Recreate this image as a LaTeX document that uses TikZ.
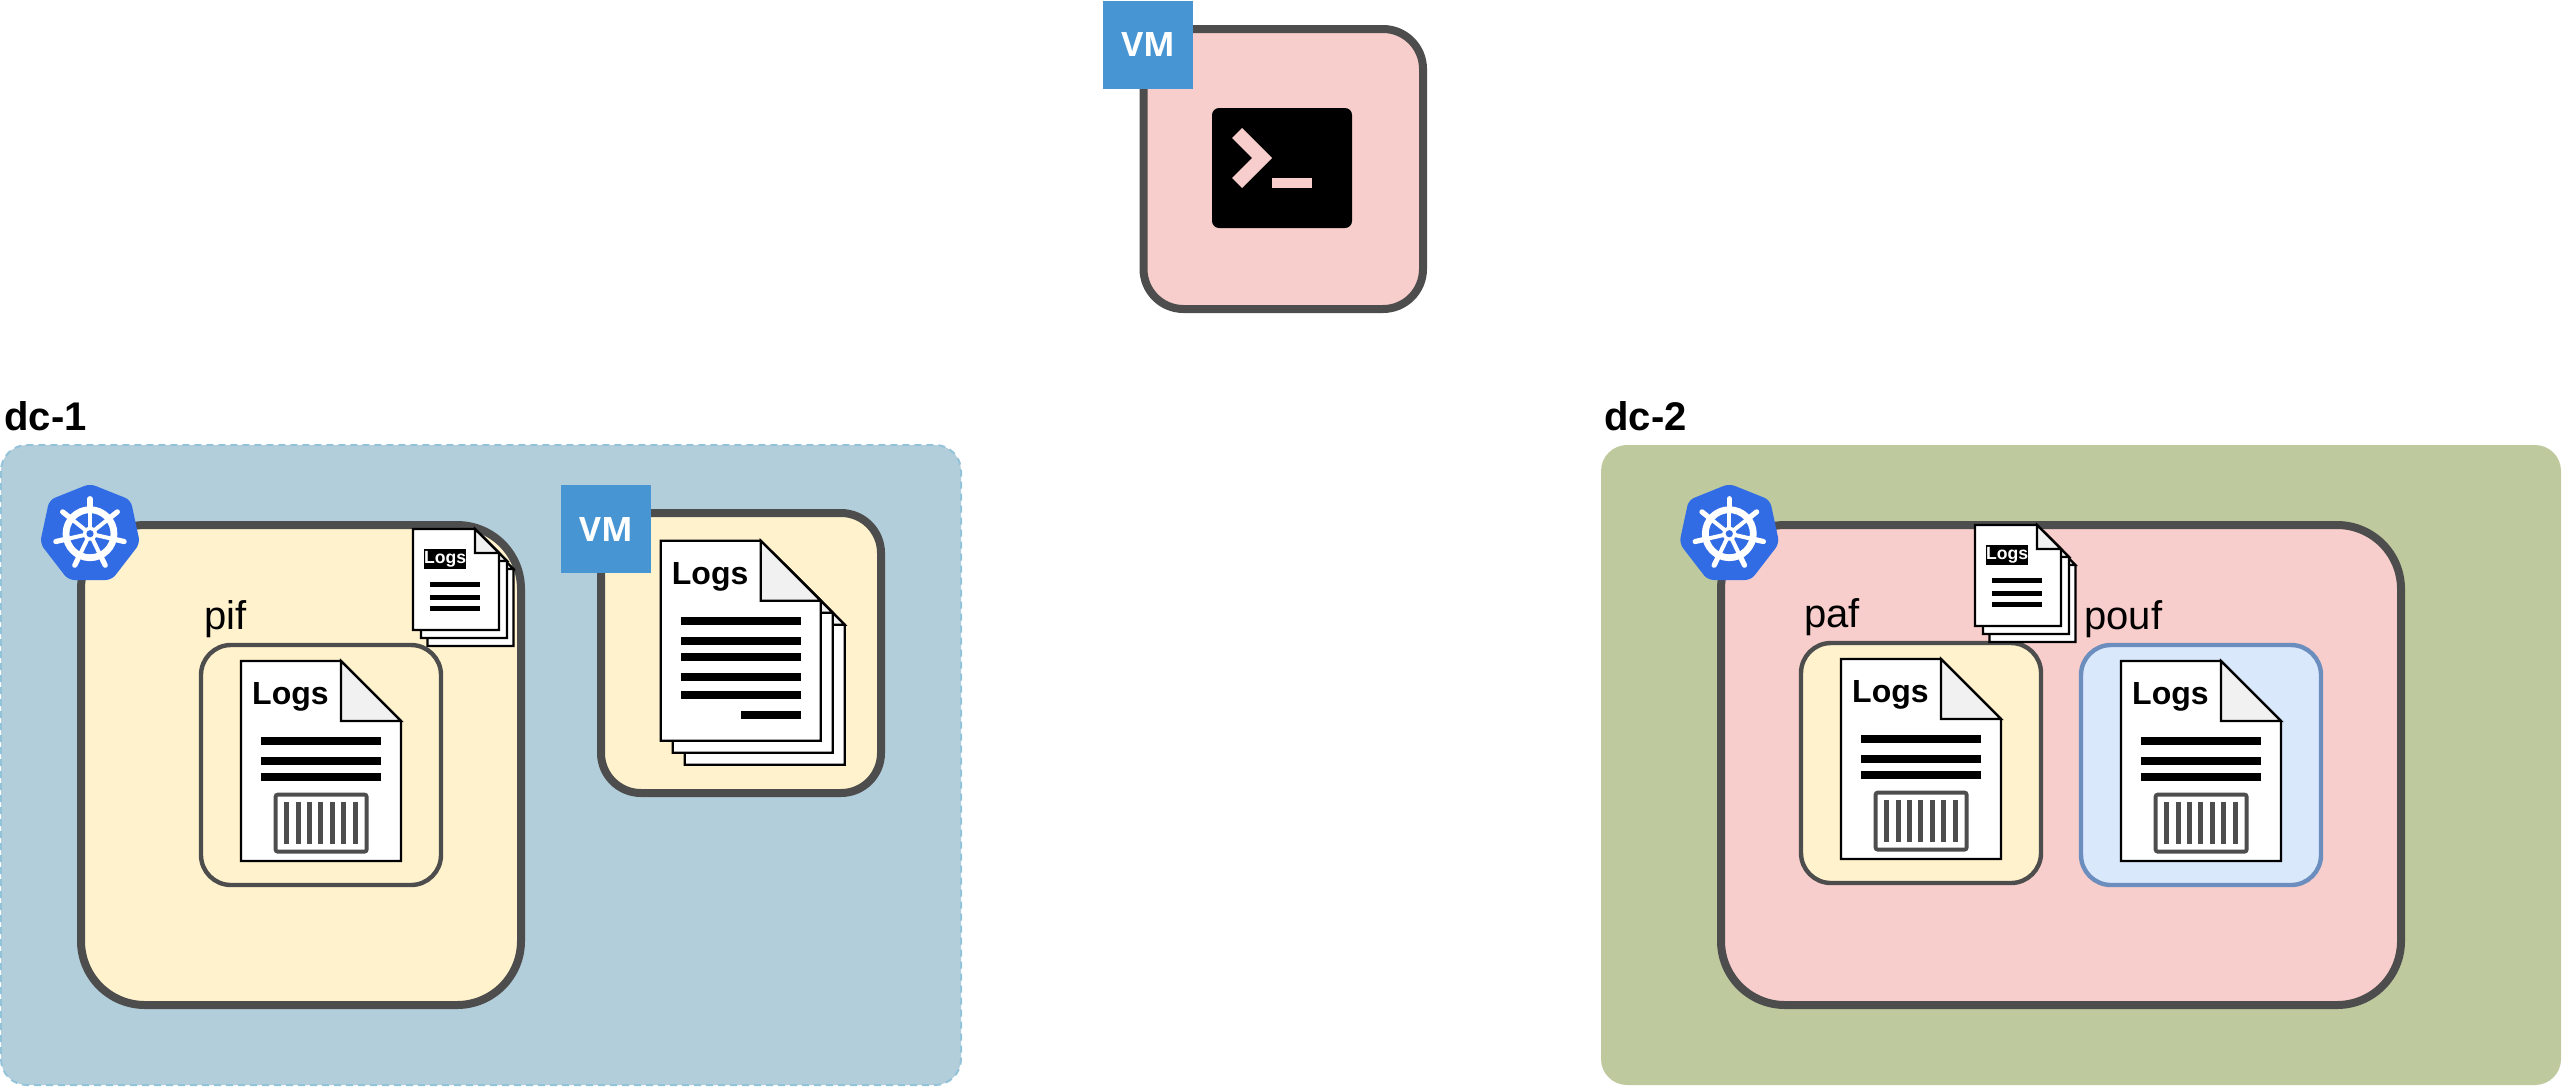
\documentclass[tikz,border=0pt]{standalone}
\usepackage{fontspec}
\setmainfont{Liberation Sans}
\newfontfamily\vmfont{Open Sans}

\definecolor{zoneblue}{HTML}{B2CEDA}
\definecolor{zonedash}{HTML}{93C3D9}
\definecolor{zonegreen}{HTML}{BECA9E}
\definecolor{creamfill}{HTML}{FFF2CC}
\definecolor{pinkfill}{HTML}{F8CECC}
\definecolor{bluefill}{HTML}{DAE8FC}
\definecolor{blueline}{HTML}{6C8EBF}
\definecolor{greyline}{HTML}{4D4D4D}
\definecolor{foldgrey}{HTML}{F1F1F1}
\definecolor{vmblue}{HTML}{4796D3}
\definecolor{kubeblue}{HTML}{326CE5}

\tikzset{
	zoneBox/.style={rounded corners=13pt},
	clusterBox/.style={draw=greyline, line width=4pt, rounded corners=32pt},
	vmBox/.style={draw=greyline, line width=4pt, rounded corners=20pt},
	podBox/.style={line width=2.2pt, rounded corners=15pt},
	sheet/.style={draw=black, line width=1.1pt, fill=white, line join=miter},
	sheetFold/.style={draw=black, line width=1.1pt, fill=foldgrey, line join=miter},
	textLine/.style={fill=black},
	zoneLabel/.style={anchor=base west, inner sep=0pt, font=\fontsize{20}{20}\selectfont\bfseries},
	podLabel/.style={anchor=base west, inner sep=0pt, font=\fontsize{20}{20}\selectfont},
	logsLabel/.style={anchor=base west, inner sep=0pt, font=\fontsize{16}{16}\selectfont\bfseries},
	logsTag/.style={fill=black, text=white, inner sep=0pt, minimum width=21pt, minimum height=9.8pt, font=\fontsize{8.8}{8.8}\selectfont\bfseries},
	vmTag/.style={fill=vmblue, text=white, inner sep=0pt, minimum width=45pt, minimum height=44pt, font=\fontsize{16.8}{16.8}\vmfont\bfseries},
}

% one sheet of paper: x, y, width, height, fold
\newcommand{\logSheet}[5]{
	\draw[sheet] (#1,#2) -- ++(#3-#5,0) -- ++(#5,#5) -- ++(0,#4-#5) -- ++(-#3,0) -- cycle;
	\draw[sheetFold] (#1+#3-#5,#2) -- ++(#5,#5) -- ++(-#5,0) -- cycle;
}

% the small stack of sheets: x, y, node name
\newcommand{\smallStack}[3]{
	\logSheet{#1+14.4}{#2+16}{86}{101}{24}
	\logSheet{#1+8}{#2+8}{86}{101}{24}
	\logSheet{#1}{#2}{86}{101}{24}
	\node[logsTag] (#3) at (#1+32.2,#2+30) {Logs};
	\foreach \y in {55,68.5,79.5}
		\fill[textLine] (#1+17,#2+\y-2.5) rectangle ++(50,5);
}

% sheet with a container on it: x, y, node name
\newcommand{\containerDoc}[3]{
	\logSheet{#1}{#2}{160}{200}{60}
	\node[logsLabel] (#3) at (#1+10.8,#2+43.5) {Logs};
	\foreach \y in {80,100,116}
		\fill[textLine] (#1+20,#2+\y-4) rectangle ++(120,8);
	\draw[draw=greyline, line width=1.9pt, fill=white, rounded corners=1pt] (#1+34.6,#2+133.6) rectangle ++(91,57);
	\foreach \x in {45.7,57.1,68.5,79.9,91.3,102.7,114.1}
		\fill[greyline] (#1+\x-2.5,#2+141) rectangle ++(5,42);
}

% kubernetes badge: x, y of the wheel centre
\newcommand{\kubeBadge}[2]{
	\begin{scope}[shift={(#1,#2)}]
		\fill[kubeblue, rounded corners=3pt] (0,-50) -- (40.7,-33.7) -- (50,9.6) -- (21.7,46.3) -- (-21.7,46.3) -- (-50,9.6) -- (-40.7,-33.7) -- cycle;
		\draw[white, line width=3.4pt] (0,0) circle[radius=24];
		\foreach \a in {270,321.4,12.9,64.3,115.7,167.1,218.6} {
			\draw[white, line width=2pt] (0,0) -- (\a:24);
			\draw[white, line width=2.6pt, line cap=round] (\a:24) -- (\a:35);
		}
		\fill[white] (0,0) circle[radius=7];
		\fill[kubeblue] (0,0) circle[radius=3.6];
	\end{scope}
}

\begin{document}
\begin{tikzpicture}[x=0.5pt, y=-0.5pt]
	\useasboundingbox (0,0) rectangle (2562,1088);

	% the terminal vm
	\draw[vmBox, fill=pinkfill] (1143.5,29) rectangle (1423,309);
	\fill[black, rounded corners=3.5pt] (1212,108) rectangle (1352,228);
	\fill[pinkfill] (1242,128) -- (1272,158) -- (1242,188) -- (1232,178) -- (1252,158) -- (1232,138) -- cycle;
	\fill[pinkfill] (1272,178) rectangle (1312,188);
	\node[vmTag] (vmTop) at (1148,45) {VM};

	% dc-1
	\node[zoneLabel] (dcOne) at (4,430) {dc-1};
	\draw[zoneBox, fill=zoneblue, draw=zonedash, line width=1pt, dash pattern=on 3.5pt off 2.5pt] (1,445) rectangle (961,1085);
	\draw[clusterBox, fill=creamfill] (81,525) rectangle (521,1005);
	\kubeBadge{90}{533.7}
	\node[podLabel] (pif) at (204,629) {pif};
	\draw[podBox, draw=greyline, fill=creamfill] (201,645) rectangle (441,885);
	\containerDoc{241}{661}{logsPif}
	\smallStack{413}{529}{tagPif}

	\draw[vmBox, fill=creamfill] (601,513) rectangle (881,793);
	\logSheet{684.7}{564.7}{160}{200}{60}
	\logSheet{672.7}{552.7}{160}{200}{60}
	\logSheet{660.7}{540.7}{160}{200}{60}
	\node[logsLabel] (logsVm) at (671.5,584.5) {Logs};
	\foreach \y in {621,641,657,677,695}
		\fill[textLine] (681,\y-4) rectangle (801,\y+4);
	\fill[textLine] (741,711) rectangle (801,719);
	\node[vmTag] (vmOne) at (606,529) {VM};

	% dc-2
	\node[zoneLabel] (dcTwo) at (1604,430) {dc-2};
	\fill[zoneBox, zonegreen] (1601,445) rectangle (2561,1085);
	\draw[clusterBox, fill=pinkfill] (1721,525) rectangle (2401,1005);
	\kubeBadge{1729.3}{533.7}
	\node[podLabel] (paf) at (1804,627) {paf};
	\draw[podBox, draw=greyline, fill=creamfill] (1801,643) rectangle (2041,883);
	\containerDoc{1841}{659}{logsPaf}
	\node[podLabel] (pouf) at (2084,629) {pouf};
	\draw[podBox, draw=blueline, fill=bluefill] (2081,645) rectangle (2321,885);
	\containerDoc{2121}{661}{logsPouf}
	\smallStack{1975}{525}{tagPaf}
\end{tikzpicture}
\end{document}
